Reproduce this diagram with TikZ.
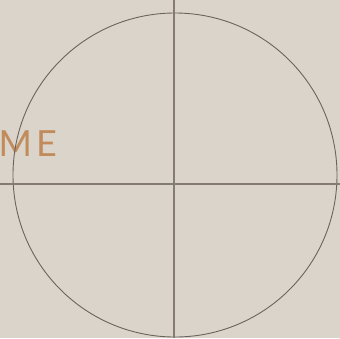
\documentclass[tikz,border=0pt]{standalone}
\usepackage{fontspec}
\newfontfamily\labelfont{Lato}
\definecolor{bg}{HTML}{DBD4CA}
\definecolor{ln}{HTML}{857B71}
\definecolor{cl}{HTML}{6B645D}
\definecolor{txt}{HTML}{C18B5B}
\begin{document}
\begin{tikzpicture}[x=1pt,y=-1pt,
  guide/.style={draw=ln,line width=1.2pt},
  ring/.style={draw=cl,line width=0.9pt}]
\useasboundingbox (0,0) rectangle (340,338);
\fill[bg] (0,0) rectangle (340,338);
\begin{scope}
\clip (0,0) rectangle (340,338);
\node[anchor=base west,inner sep=0pt,text=txt,font=\labelfont\fontsize{36}{36}\selectfont] (word) at (-1.5,156.5) {M\hspace{4pt}E};
\coordinate (c) at (175,175);
\draw[ring] (c) circle[radius=162];
\coordinate (hl) at (0,184);
\coordinate (hr) at (340,184);
\coordinate (vt) at (174,0);
\coordinate (vb) at (174,338);
\draw[guide] (hl) -- (hr);
\draw[guide] (vt) -- (vb);
\end{scope}
\end{tikzpicture}
\end{document}
